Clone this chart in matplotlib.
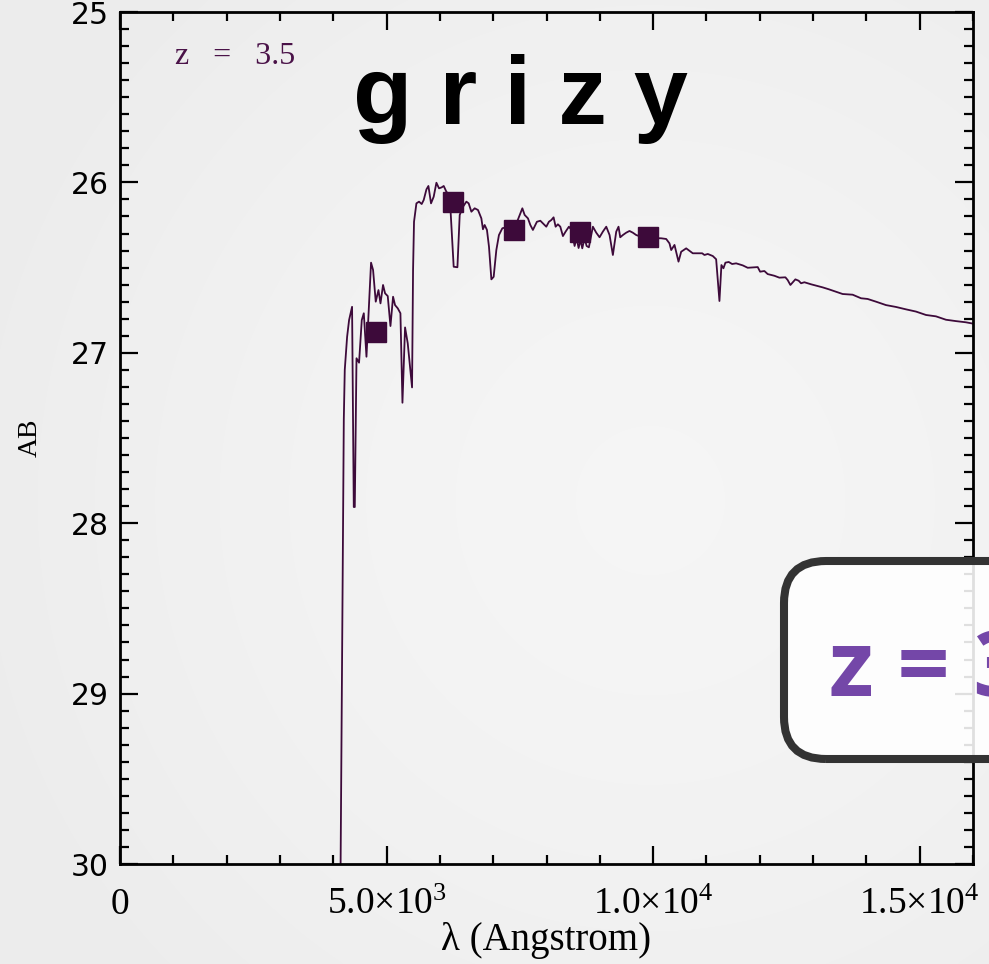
import matplotlib
matplotlib.use('Agg')
import numpy as np
import matplotlib.pyplot as plt
from matplotlib.patches import FancyBboxPatch
from matplotlib.ticker import MultipleLocator

# ---------------- data ----------------
wavelength = [4115, 4198, 4216, 4260, 4297, 4353, 4372, 4385, 4404, 4423, 4436, 4484,
              4535, 4573, 4623, 4709, 4747, 4797, 4848, 4886, 4934, 4972, 5022, 5073,
              5122, 5159, 5210, 5260, 5298, 5347, 5397, 5478, 5497, 5515, 5560, 5609,
              5659, 5697, 5748, 5785, 5834, 5884, 5935, 5984, 6034, 6072, 6122, 6184,
              6259, 6329, 6372, 6434, 6497, 6540, 6591, 6653, 6715, 6778, 6808, 6840,
              6883, 6921, 6966, 7009, 7059, 7108, 7172, 7271, 7402, 7547, 7590, 7652,
              7697, 7745, 7820, 7884, 7933, 7996, 8045, 8090, 8133, 8171, 8214, 8259,
              8308, 8358, 8420, 8471, 8527, 8564, 8602, 8639, 8671, 8714, 8752, 8795,
              8870, 8933, 8995, 9057, 9121, 9183, 9245, 9308, 9351, 9383, 9432, 9495,
              9557, 9619, 9683, 9838, 10151, 10245, 10307, 10339, 10401, 10476, 10526,
              10620, 10744, 10807, 10920, 10963, 11025, 11119, 11182, 11244, 11281,
              11319, 11356, 11418, 11482, 11557, 11681, 11774, 11962, 12007, 12087,
              12149, 12275, 12368, 12481, 12524, 12575, 12668, 12730, 12775, 12837,
              12963, 13180, 13293, 13555, 13742, 13900, 14023, 14181, 14368, 14556,
              14743, 14930, 15118, 15305, 15493, 15680, 15867, 16004, 16500]
ab_mag = [31.0, 27.39, 27.10, 26.906, 26.808, 26.730, 27.395, 27.905, 27.905, 27.395,
          27.032, 27.058, 26.808, 26.768, 27.023, 26.471, 26.514, 26.700, 26.632, 26.710,
          26.602, 26.651, 26.667, 26.843, 26.671, 26.720, 26.739, 26.768, 27.293, 26.851,
          26.944, 27.203, 26.514, 26.231, 26.123, 26.113, 26.127, 26.103, 26.041, 26.021,
          26.123, 26.084, 26.002, 26.035, 26.029, 26.021, 26.055, 26.074, 26.495, 26.498,
          26.191, 26.143, 26.113, 26.123, 26.172, 26.152, 26.162, 26.211, 26.275, 26.250,
          26.279, 26.377, 26.569, 26.554, 26.397, 26.309, 26.269, 26.262, 26.268, 26.152,
          26.191, 26.211, 26.250, 26.279, 26.231, 26.225, 26.240, 26.260, 26.231, 26.221,
          26.205, 26.260, 26.246, 26.260, 26.315, 26.289, 26.260, 26.279, 26.373, 26.326,
          26.385, 26.338, 26.387, 26.326, 26.373, 26.381, 26.260, 26.295, 26.322, 26.289,
          26.260, 26.309, 26.426, 26.289, 26.260, 26.322, 26.309, 26.295, 26.285, 26.295,
          26.309, 26.326, 26.328, 26.332, 26.358, 26.397, 26.367, 26.465, 26.407, 26.387,
          26.416, 26.416, 26.416, 26.426, 26.420, 26.432, 26.451, 26.696, 26.485, 26.504,
          26.471, 26.467, 26.479, 26.475, 26.487, 26.501, 26.497, 26.524, 26.520, 26.538,
          26.548, 26.559, 26.557, 26.573, 26.602, 26.569, 26.577, 26.592, 26.586, 26.598,
          26.616, 26.627, 26.655, 26.659, 26.680, 26.684, 26.700, 26.720, 26.731, 26.745,
          26.758, 26.778, 26.786, 26.806, 26.814, 26.821, 26.829, 26.85]

band_names = ['g', 'r', 'i', 'z', 'y']
band_wavelength = [4807, 6237, 7398, 8626, 9913]
band_mag = [26.876, 26.115, 26.282, 26.293, 26.320]

x_ticks = [0, 5000, 10000, 15000]
x_tick_labels = ['0', r'$\mathregular{5.0{\times}10^{3}}$',
                 r'$\mathregular{1.0{\times}10^{4}}$', r'$\mathregular{1.5{\times}10^{4}}$']
y_ticks = [25, 26, 27, 28, 29, 30]
y_tick_labels = ['25', '26', '27', '28', '29', '30']

redshift_label = 'z   =   3.5'
title_text = ' '.join(band_names)
overlay_text = 'z = 3.5'

# ---------------- style ----------------
plt.rcParams['mathtext.fontset'] = 'custom'
plt.rcParams['mathtext.rm'] = 'Liberation Serif'
plt.rcParams['mathtext.it'] = 'Liberation Serif:italic'
plt.rcParams['mathtext.bf'] = 'Liberation Serif:bold'

line_color = '#3d0a3a'
bg = '#f1f1f1'

fig = plt.figure(figsize=(9.89, 9.64), dpi=100, facecolor=bg)

# subtle radial background gradient (lighter toward the middle-right)
gy, gx = np.mgrid[0:964, 0:989]
r = np.hypot((gx - 650) / 700.0, (gy - 500) / 700.0)
shade = 0.962 - 0.035 * np.clip(r, 0, 1) ** 1.5
fig.figimage(np.dstack([shade] * 3), xo=0, yo=0, origin='upper', zorder=-10)

ax = fig.add_axes([120 / 989, 1 - 864 / 964, (973 - 120) / 989, (864 - 12) / 964])
ax.set_facecolor('none')

ax.plot(wavelength, ab_mag, color=line_color, lw=1.3, zorder=2)
ax.plot(band_wavelength, band_mag, ls='none', marker='s', ms=15, mfc=line_color,
        mec=line_color, zorder=3)

ax.set_xlim(0, 16000)
ax.set_ylim(30, 25)

for s in ax.spines.values():
    s.set_linewidth(2.0)
    s.set_color('black')

ax.xaxis.set_minor_locator(MultipleLocator(1000))
ax.yaxis.set_minor_locator(MultipleLocator(0.1))
ax.set_xticks(x_ticks, labels=x_tick_labels)
ax.set_yticks(y_ticks, labels=y_tick_labels)
ax.tick_params(which='both', direction='in', top=True, right=True, width=1.6, color='black')
ax.tick_params(which='major', length=13)
ax.tick_params(which='minor', length=6.5)
ax.tick_params(axis='x', which='major', pad=17)
ax.tick_params(axis='y', which='major', pad=8)
for lab in ax.get_xticklabels():
    lab.set_fontfamily('Liberation Serif')
    lab.set_fontsize(27)
for lab in ax.get_yticklabels():
    lab.set_fontfamily('DejaVu Sans')
    lab.set_fontsize(21.5)

ax.set_xlabel('λ (Angstrom)', family='Liberation Serif', fontsize=28, labelpad=0)
ax.set_ylabel('AB', family='Liberation Serif', fontsize=20, labelpad=20)

ax.text(0.064, 0.948, redshift_label, transform=ax.transAxes, ha='left', va='center',
        family='Liberation Serif', fontsize=23, color='#4a1248')
ax.text(0.47, 0.869, title_text, transform=ax.transAxes, ha='center', va='baseline',
        family='Liberation Sans', fontweight='bold', fontsize=70, color='black')

# overlay callout box (partially outside the figure, as in the reference)
box = FancyBboxPatch((7.84, 2.05), 3.4, 1.98, boxstyle='round,pad=0,rounding_size=0.42',
                     transform=fig.dpi_scale_trans, facecolor='white', alpha=0.88,
                     edgecolor='none', zorder=10)
fig.add_artist(box)
box_edge = FancyBboxPatch((7.84, 2.05), 3.4, 1.98, boxstyle='round,pad=0,rounding_size=0.42',
                          transform=fig.dpi_scale_trans, facecolor='none',
                          edgecolor='#333333', lw=5.8, zorder=11)
fig.add_artist(box_edge)
fig.text(8.29, 9.64 - 6.96, overlay_text, transform=fig.dpi_scale_trans, ha='left',
         va='baseline', family='Open Sans', fontweight='bold', fontsize=66,
         color='#7447a8', zorder=12)

fig.savefig('out.png', dpi=100, facecolor=bg)
